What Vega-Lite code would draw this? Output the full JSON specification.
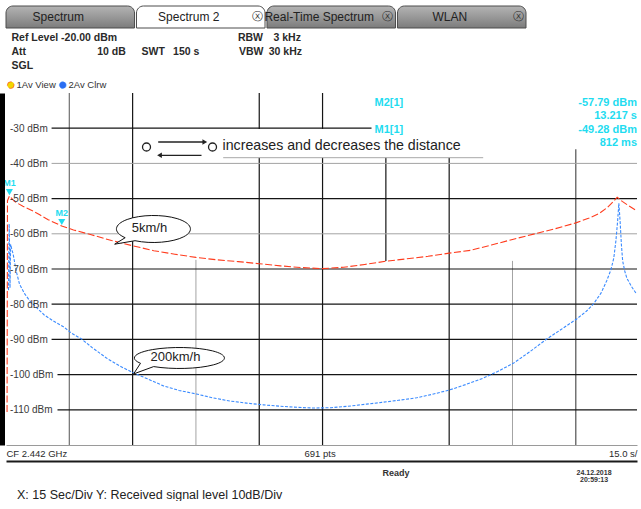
{
  "$schema": "https://vega.github.io/schema/vega-lite/v6.json",
  "padding": {"left": 0, "top": 5, "right": 0, "bottom": 0},
  "background": "white",
  "bounds": "flush",
  "spacing": 65,
  "resolve": {"legend": {"color": "independent", "strokeDash": "independent", "shape": "independent"}},
  "config": {"font": "Liberation Sans", "view": {"stroke": null}},
  "datasets": {
    "tabs": [
      {"tab": "Spectrum", "active": false},
      {"tab": "Spectrum 2", "active": true},
      {"tab": "Real-Time Spectrum", "active": false},
      {"tab": "WLAN", "active": false}
    ],
    "traces": [
      {"series": "1Av View", "t": 0.25, "dbm": -110.6},
      {"series": "1Av View", "t": 0.3, "dbm": -80},
      {"series": "1Av View", "t": 0.35, "dbm": -50.6},
      {"series": "1Av View", "t": 0.812, "dbm": -49.28},
      {"series": "1Av View", "t": 2, "dbm": -50.8},
      {"series": "1Av View", "t": 4, "dbm": -52.2},
      {"series": "1Av View", "t": 6, "dbm": -53.3},
      {"series": "1Av View", "t": 8, "dbm": -54.6},
      {"series": "1Av View", "t": 10, "dbm": -56.0},
      {"series": "1Av View", "t": 13.217, "dbm": -57.79},
      {"series": "1Av View", "t": 16, "dbm": -58.9},
      {"series": "1Av View", "t": 20, "dbm": -60.2},
      {"series": "1Av View", "t": 25, "dbm": -61.9},
      {"series": "1Av View", "t": 30, "dbm": -63.4},
      {"series": "1Av View", "t": 35, "dbm": -64.8},
      {"series": "1Av View", "t": 40, "dbm": -65.8},
      {"series": "1Av View", "t": 45, "dbm": -66.7},
      {"series": "1Av View", "t": 50, "dbm": -67.4},
      {"series": "1Av View", "t": 55, "dbm": -67.9},
      {"series": "1Av View", "t": 60, "dbm": -68.5},
      {"series": "1Av View", "t": 65, "dbm": -69.1},
      {"series": "1Av View", "t": 70, "dbm": -69.6},
      {"series": "1Av View", "t": 75, "dbm": -69.9},
      {"series": "1Av View", "t": 80, "dbm": -69.5},
      {"series": "1Av View", "t": 85, "dbm": -68.7},
      {"series": "1Av View", "t": 90, "dbm": -67.8},
      {"series": "1Av View", "t": 95, "dbm": -67.1},
      {"series": "1Av View", "t": 100, "dbm": -66.4},
      {"series": "1Av View", "t": 105, "dbm": -65.5},
      {"series": "1Av View", "t": 110, "dbm": -64.7},
      {"series": "1Av View", "t": 115, "dbm": -63.2},
      {"series": "1Av View", "t": 120, "dbm": -61.6},
      {"series": "1Av View", "t": 125, "dbm": -60.1},
      {"series": "1Av View", "t": 130, "dbm": -58.6},
      {"series": "1Av View", "t": 135, "dbm": -56.9},
      {"series": "1Av View", "t": 138, "dbm": -55.6},
      {"series": "1Av View", "t": 140.6, "dbm": -54.2},
      {"series": "1Av View", "t": 142.5, "dbm": -52.5},
      {"series": "1Av View", "t": 144, "dbm": -50.7},
      {"series": "1Av View", "t": 144.8, "dbm": -49.6},
      {"series": "1Av View", "t": 146, "dbm": -50.8},
      {"series": "1Av View", "t": 147.5, "dbm": -52.0},
      {"series": "1Av View", "t": 149.5, "dbm": -53.5},
      {"series": "2Av Clrw", "t": 0.6, "dbm": -76},
      {"series": "2Av Clrw", "t": 0.75, "dbm": -57.2},
      {"series": "2Av Clrw", "t": 0.85, "dbm": -63.5},
      {"series": "2Av Clrw", "t": 0.9, "dbm": -65},
      {"series": "2Av Clrw", "t": 0.95, "dbm": -75.4},
      {"series": "2Av Clrw", "t": 1.1, "dbm": -63},
      {"series": "2Av Clrw", "t": 1.4, "dbm": -64.5},
      {"series": "2Av Clrw", "t": 1.7, "dbm": -65.8},
      {"series": "2Av Clrw", "t": 2.4, "dbm": -70.5},
      {"series": "2Av Clrw", "t": 3.2, "dbm": -74.3},
      {"series": "2Av Clrw", "t": 4.4, "dbm": -77},
      {"series": "2Av Clrw", "t": 5.6, "dbm": -79},
      {"series": "2Av Clrw", "t": 7.2, "dbm": -80.9},
      {"series": "2Av Clrw", "t": 9, "dbm": -83},
      {"series": "2Av Clrw", "t": 11, "dbm": -84.6},
      {"series": "2Av Clrw", "t": 13.6, "dbm": -86.4},
      {"series": "2Av Clrw", "t": 15.5, "dbm": -88.2},
      {"series": "2Av Clrw", "t": 17.9, "dbm": -89.9},
      {"series": "2Av Clrw", "t": 20.5, "dbm": -92.4},
      {"series": "2Av Clrw", "t": 23.8, "dbm": -95.3},
      {"series": "2Av Clrw", "t": 27, "dbm": -97.6},
      {"series": "2Av Clrw", "t": 30.2, "dbm": -99.5},
      {"series": "2Av Clrw", "t": 33.5, "dbm": -101.2},
      {"series": "2Av Clrw", "t": 37.3, "dbm": -103.2},
      {"series": "2Av Clrw", "t": 41, "dbm": -104.5},
      {"series": "2Av Clrw", "t": 45.1, "dbm": -105.5},
      {"series": "2Av Clrw", "t": 49, "dbm": -106.6},
      {"series": "2Av Clrw", "t": 53, "dbm": -107.5},
      {"series": "2Av Clrw", "t": 57, "dbm": -108.1},
      {"series": "2Av Clrw", "t": 61, "dbm": -108.6},
      {"series": "2Av Clrw", "t": 65, "dbm": -109},
      {"series": "2Av Clrw", "t": 69, "dbm": -109.3},
      {"series": "2Av Clrw", "t": 72.9, "dbm": -109.5},
      {"series": "2Av Clrw", "t": 77, "dbm": -109.4},
      {"series": "2Av Clrw", "t": 81, "dbm": -109},
      {"series": "2Av Clrw", "t": 85.4, "dbm": -108.4},
      {"series": "2Av Clrw", "t": 89, "dbm": -107.9},
      {"series": "2Av Clrw", "t": 93, "dbm": -107.3},
      {"series": "2Av Clrw", "t": 97.3, "dbm": -106.6},
      {"series": "2Av Clrw", "t": 101, "dbm": -105.6},
      {"series": "2Av Clrw", "t": 105, "dbm": -104.4},
      {"series": "2Av Clrw", "t": 109, "dbm": -102.8},
      {"series": "2Av Clrw", "t": 113.1, "dbm": -101},
      {"series": "2Av Clrw", "t": 116.5, "dbm": -99.1},
      {"series": "2Av Clrw", "t": 120.3, "dbm": -96.7},
      {"series": "2Av Clrw", "t": 124, "dbm": -93.6},
      {"series": "2Av Clrw", "t": 128.1, "dbm": -89.9},
      {"series": "2Av Clrw", "t": 131.5, "dbm": -87.2},
      {"series": "2Av Clrw", "t": 135.2, "dbm": -84.2},
      {"series": "2Av Clrw", "t": 137.5, "dbm": -82},
      {"series": "2Av Clrw", "t": 139.2, "dbm": -79.9},
      {"series": "2Av Clrw", "t": 141, "dbm": -76.8},
      {"series": "2Av Clrw", "t": 142.3, "dbm": -73.4},
      {"series": "2Av Clrw", "t": 143.3, "dbm": -70.3},
      {"series": "2Av Clrw", "t": 144, "dbm": -66.9},
      {"series": "2Av Clrw", "t": 144.5, "dbm": -62},
      {"series": "2Av Clrw", "t": 144.9, "dbm": -56.5},
      {"series": "2Av Clrw", "t": 145.2, "dbm": -51.3},
      {"series": "2Av Clrw", "t": 145.5, "dbm": -56.5},
      {"series": "2Av Clrw", "t": 145.8, "dbm": -63},
      {"series": "2Av Clrw", "t": 146.1, "dbm": -67.7},
      {"series": "2Av Clrw", "t": 146.6, "dbm": -70.6},
      {"series": "2Av Clrw", "t": 147.1, "dbm": -72.6},
      {"series": "2Av Clrw", "t": 148.2, "dbm": -75},
      {"series": "2Av Clrw", "t": 149.4, "dbm": -77.1}
    ],
    "vgrid": [
      {"t": 15, "y1": -20, "y2": -120},
      {"t": 30, "y1": -20, "y2": -120},
      {"t": 45, "y1": -67.4, "y2": -120},
      {"t": 60, "y1": -20, "y2": -30.2},
      {"t": 60, "y1": -38.4, "y2": -120},
      {"t": 75, "y1": -20, "y2": -30.2},
      {"t": 75, "y1": -38.4, "y2": -120},
      {"t": 90, "y1": -38.4, "y2": -67.7},
      {"t": 105, "y1": -38.4, "y2": -120},
      {"t": 120, "y1": -67.7, "y2": -120},
      {"t": 135, "y1": -36.0, "y2": -120}
    ],
    "hgrid": [
      {"dbm": -30, "t1": 10.8, "t2": 86.6},
      {"dbm": -40, "t1": 10.8, "t2": 149.5},
      {"dbm": -50, "t1": 10.8, "t2": 149.5},
      {"dbm": -60, "t1": 10.8, "t2": 149.5},
      {"dbm": -70, "t1": 10.8, "t2": 149.5},
      {"dbm": -80, "t1": 10.8, "t2": 149.5},
      {"dbm": -90, "t1": 10.8, "t2": 149.5},
      {"dbm": -100, "t1": 12.2, "t2": 149.5},
      {"dbm": -110, "t1": 12.2, "t2": 149.5}
    ],
    "markers": [
      {"marker": "M1", "t": 0.812, "dbm": -49.28},
      {"marker": "M2", "t": 13.217, "dbm": -57.79}
    ],
    "readout": [
      {"text": "M2[1]", "t": 87.3, "dbm": -22.7, "col": "name"},
      {"text": "M1[1]", "t": 87.3, "dbm": -30.37, "col": "name"},
      {"text": "-57.79 dBm", "t": 149.5, "dbm": -22.7, "col": "value"},
      {"text": "13.217 s", "t": 149.5, "dbm": -26.4, "col": "value"},
      {"text": "-49.28 dBm", "t": 149.5, "dbm": -30.37, "col": "value"},
      {"text": "812 ms", "t": 149.5, "dbm": -34.2, "col": "value"}
    ],
    "bubbles": [
      {"label": "5km/h", "t": 34.95, "dbm": -58.64},
      {"label": "200km/h", "t": 41.1, "dbm": -95.28}
    ],
    "note": [{"text": "increases and decreases the distance", "t": 51.3, "dbm": -35.06}],
    "ends": [{"t": 33.29, "dbm": -35.34}, {"t": 48.93, "dbm": -35.34}],
    "arrows": [
      {"dir": "right", "t1": 36.06, "t2": 47.1, "tip": 47.1, "dbm": -33.92},
      {"dir": "left", "t1": 36.37, "t2": 46.32, "tip": 36.37, "dbm": -37.7}
    ],
    "underline": [{"t1": 51.46, "t2": 113.06, "dbm": -38.38}]
  },
  "vconcat": [
    {
      "width": 520,
      "height": 22,
      "data": {"name": "tabs"},
      "encoding": {
        "x": {"field": "tab", "type": "nominal", "sort": null, "axis": null, "scale": {"paddingInner": 0.015, "paddingOuter": 0}}
      },
      "layer": [
        {
          "mark": {"type": "rect", "cornerRadiusTopLeft": 7, "cornerRadiusTopRight": 7, "stroke": "#4d4d4d", "strokeWidth": 1},
          "encoding": {
            "fill": {
              "condition": {"test": "datum.active", "value": "#ffffff"},
              "value": {"gradient": "linear", "x1": 0, "y1": 0, "x2": 0, "y2": 1, "stops": [{"offset": 0, "color": "#b4b4b4"}, {"offset": 1, "color": "#7c7c7c"}]}
            }
          }
        },
        {
          "mark": {"type": "text", "fontSize": 12, "fontWeight": "normal", "color": "#222222", "dx": -12},
          "encoding": {"text": {"field": "tab"}}
        },
        {
          "transform": [{"filter": "datum.tab != 'Spectrum'"}],
          "mark": {"type": "text", "fontSize": 11, "font": "DejaVu Sans", "color": "#333333", "dx": -8},
          "encoding": {
            "x": {"field": "tab", "type": "nominal", "sort": null, "axis": null, "bandPosition": 1},
            "text": {"value": "ⓧ"}
          }
        }
      ]
    },
    {
      "width": 631,
      "height": 352,
      "title": {
        "text": [
          "Ref Level  -20.00 dBm\u2003\u2003\u2003\u2003\u2003\u2003\u2003\u2003\u2003\u2003\u2003\u2002RBW\u2002\u20023 kHz",
          "Att\u2003\u2003\u2003\u2003\u2003\u2003\u2002 10 dB\u2003\u2002SWT\u2002 150 s\u2003\u2003\u2003\u2002 VBW\u200230 kHz",
          "SGL"
        ],
        "anchor": "start",
        "frame": "group",
        "fontSize": 10.5,
        "fontWeight": "bold",
        "color": "#2a2a2a",
        "lineHeight": 14,
        "offset": 9,
        "dx": 5.5
      },
      "resolve": {"axis": {"x": "independent", "y": "independent"}},
      "layer": [
        {
          "data": {"name": "vgrid"},
          "mark": {"type": "rule"},
          "encoding": {
            "x": {"field": "t", "type": "quantitative", "axis": null, "scale": {"domain": [0, 149.5], "nice": false, "zero": false}},
            "y": {"field": "y1", "type": "quantitative", "axis": null, "scale": {"domain": [-120, -20], "nice": false, "zero": false}},
            "y2": {"field": "y2"},
            "color": {
              "condition": [
                {"test": "datum.t == 45 || datum.t == 120", "value": "#a3a3a3"},
                {"test": "datum.t == 15", "value": "#707070"},
                {"test": "datum.t == 135", "value": "#505050"}
              ],
              "value": "#151515"
            },
            "strokeWidth": {"condition": {"test": "datum.t == 45 || datum.t == 120", "value": 1}, "value": 1.2}
          }
        },
        {
          "data": {"name": "hgrid"},
          "mark": {"type": "rule"},
          "encoding": {
            "x": {
              "field": "t1", "type": "quantitative",
              "axis": {
                "orient": "bottom", "offset": 16, "values": [92.3, 139.2],
                "labelExpr": "datum.value < 100 ? 'Ready' : ['24.12.2018', '20:59:13']",
                "title": null, "ticks": false, "domain": true, "domainColor": "#1a1a1a", "domainWidth": 2, "grid": false,
                "labelFontWeight": "bold",
                "labelFontSize": {"condition": {"test": "datum.value > 100", "value": 7}, "value": 9},
                "labelColor": "#333333", "labelLineHeight": 7.5, "labelPadding": 7,
                "labelOverlap": false, "labelBound": false, "labelFlush": false
              }
            },
            "x2": {"field": "t2"},
            "y": {
              "field": "dbm", "type": "quantitative",
              "axis": {
                "orient": "left", "offset": 5.5, "values": [-30, -40, -50, -60, -70, -80, -90, -100, -110],
                "labelExpr": "datum.value + ' dBm'", "title": null, "ticks": false, "tickSize": 0, "grid": false,
                "domain": true, "domainColor": "#000000", "domainWidth": 8,
                "labelAlign": "left", "labelPadding": -9, "labelFontSize": 10, "labelColor": "#3a3a3a",
                "labelBound": false, "labelOverlap": false, "zindex": 1
              }
            },
            "color": {"condition": {"test": "datum.dbm == -40 || datum.dbm == -60", "value": "#a3a3a3"}, "value": "#151515"},
            "strokeWidth": {"condition": {"test": "datum.dbm == -40 || datum.dbm == -60", "value": 1}, "value": 1.2}
          }
        },
        {
          "data": {"name": "underline"},
          "mark": {"type": "rule", "color": "#a8a8a8", "strokeWidth": 1},
          "encoding": {
            "x": {"field": "t1", "type": "quantitative", "axis": null},
            "x2": {"field": "t2"},
            "y": {"field": "dbm", "type": "quantitative", "axis": null}
          }
        },
        {
          "data": {"name": "arrows"},
          "mark": {"type": "rule", "color": "#222222", "strokeWidth": 1.3},
          "encoding": {
            "x": {"field": "t1", "type": "quantitative", "axis": null},
            "x2": {"field": "t2"},
            "y": {"field": "dbm", "type": "quantitative", "axis": null}
          }
        },
        {
          "data": {"name": "arrows"},
          "mark": {"type": "point", "filled": true, "color": "#222222", "size": 30, "opacity": 1},
          "encoding": {
            "x": {"field": "tip", "type": "quantitative", "axis": null},
            "y": {"field": "dbm", "type": "quantitative", "axis": null},
            "shape": {"field": "dir", "type": "nominal", "scale": {"domain": ["right", "left"], "range": ["triangle-right", "triangle-left"]}, "legend": null}
          }
        },
        {
          "data": {"name": "ends"},
          "mark": {"type": "point", "filled": true, "fill": "#ffffff", "stroke": "#222222", "strokeWidth": 1.3, "size": 64, "opacity": 1},
          "encoding": {
            "x": {"field": "t", "type": "quantitative", "axis": null},
            "y": {"field": "dbm", "type": "quantitative", "axis": null}
          }
        },
        {
          "data": {"name": "note"},
          "mark": {"type": "text", "align": "left", "baseline": "middle", "fontSize": 14.2, "color": "#222222"},
          "encoding": {
            "x": {"field": "t", "type": "quantitative", "axis": null},
            "y": {"field": "dbm", "type": "quantitative", "axis": null},
            "text": {"field": "text"}
          }
        },
        {
          "data": {"name": "traces"},
          "mark": {"type": "line", "strokeWidth": 1.1},
          "encoding": {
            "x": {
              "field": "t", "type": "quantitative",
              "scale": {"domain": [0, 149.5], "nice": false, "zero": false},
              "axis": {
                "orient": "bottom", "values": [0, 74.3, 149.5],
                "labelExpr": "datum.value == 0 ? 'CF 2.442 GHz' : datum.value < 100 ? '691 pts' : '15.0 s/'",
                "labelFlush": true, "labelFontSize": 9.5, "labelColor": "#2a2a2a", "labelPadding": 3,
                "ticks": false, "grid": false, "domain": true, "domainColor": "#9a9a9a", "domainWidth": 1,
                "labelOverlap": false, "labelBound": false,
                "title": "X: 15 Sec/Div Y: Received signal level 10dB/Div",
                "titleFontSize": 12.5, "titleFontWeight": "normal", "titleColor": "#222222",
                "titleAnchor": "start", "titleAlign": "left", "titleX": 10.5, "titleY": 49, "titleBaseline": "middle"
              }
            },
            "y": {"field": "dbm", "type": "quantitative", "axis": null, "scale": {"domain": [-120, -20], "nice": false, "zero": false}},
            "color": {
              "field": "series", "type": "nominal",
              "scale": {"domain": ["1Av View", "2Av Clrw"], "range": ["#ff3c1e", "#3b8bff"]},
              "legend": {
                "orient": "top", "direction": "horizontal", "title": null,
                "symbolType": "circle", "symbolSize": 45, "labelFontSize": 9.5, "labelColor": "#333333",
                "columnPadding": 2, "labelOffset": 1, "padding": 0, "offset": 3,
                "encode": {
                  "symbols": {
                    "update": {
                      "fill": {"signal": "datum.value == '1Av View' ? '#f2d600' : '#2b6ef2'"},
                      "stroke": {"value": "#555555"},
                      "strokeWidth": {"value": 0.6},
                      "strokeDash": {"value": [1, 0]}
                    }
                  }
                }
              }
            },
            "strokeDash": {"field": "series", "type": "nominal", "scale": {"domain": ["1Av View", "2Av Clrw"], "range": [[7, 2.5], [3, 1.5]]}, "legend": null}
          }
        },
        {
          "data": {"name": "markers"},
          "mark": {"type": "point", "shape": "triangle-down", "filled": true, "color": "#1fdcf0", "size": 50, "yOffset": -4, "opacity": 1},
          "encoding": {
            "x": {"field": "t", "type": "quantitative", "axis": null},
            "y": {"field": "dbm", "type": "quantitative", "axis": null}
          }
        },
        {
          "data": {"name": "markers"},
          "mark": {"type": "text", "fontSize": 9, "fontWeight": "bold", "color": "#1fdcf0", "yOffset": -13},
          "encoding": {
            "x": {"field": "t", "type": "quantitative", "axis": null},
            "y": {"field": "dbm", "type": "quantitative", "axis": null},
            "text": {"field": "marker"}
          }
        },
        {
          "data": {"name": "readout"},
          "transform": [{"filter": "datum.col == 'name'"}],
          "mark": {"type": "text", "align": "left", "baseline": "middle", "fontSize": 11, "fontWeight": "bold", "color": "#1fdcf0"},
          "encoding": {
            "x": {"field": "t", "type": "quantitative", "axis": null},
            "y": {"field": "dbm", "type": "quantitative", "axis": null},
            "text": {"field": "text"}
          }
        },
        {
          "data": {"name": "readout"},
          "transform": [{"filter": "datum.col == 'value'"}],
          "mark": {"type": "text", "align": "right", "baseline": "middle", "fontSize": 11, "fontWeight": "bold", "color": "#1fdcf0"},
          "encoding": {
            "x": {"field": "t", "type": "quantitative", "axis": null},
            "y": {"field": "dbm", "type": "quantitative", "axis": null},
            "text": {"field": "text"}
          }
        },
        {
          "data": {"name": "bubbles"},
          "transform": [{"filter": "datum.label == '5km/h'"}],
          "mark": {"type": "point", "filled": true, "fill": "#ffffff", "stroke": "#111111", "strokeWidth": 1, "opacity": 1, "size": 5476,
                   "shape": "M-0.766,0.235A1,0.365,0,1,1,-0.5,0.316L-1.05,0.41Z"},
          "encoding": {
            "x": {"field": "t", "type": "quantitative", "axis": null},
            "y": {"field": "dbm", "type": "quantitative", "axis": null}
          }
        },
        {
          "data": {"name": "bubbles"},
          "transform": [{"filter": "datum.label == '200km/h'"}],
          "mark": {"type": "point", "filled": true, "fill": "#ffffff", "stroke": "#111111", "strokeWidth": 1, "opacity": 1, "size": 8100,
                   "shape": "M-0.866,0.117A1,0.233,0,1,1,-0.574,0.191L-1.02,0.355Z"},
          "encoding": {
            "x": {"field": "t", "type": "quantitative", "axis": null},
            "y": {"field": "dbm", "type": "quantitative", "axis": null}
          }
        },
        {
          "data": {"name": "bubbles"},
          "mark": {"type": "text", "fontSize": 13, "color": "#222222", "dx": -4, "dy": -1},
          "encoding": {
            "x": {"field": "t", "type": "quantitative", "axis": null},
            "y": {"field": "dbm", "type": "quantitative", "axis": null},
            "text": {"field": "label"}
          }
        }
      ]
    }
  ]
}
